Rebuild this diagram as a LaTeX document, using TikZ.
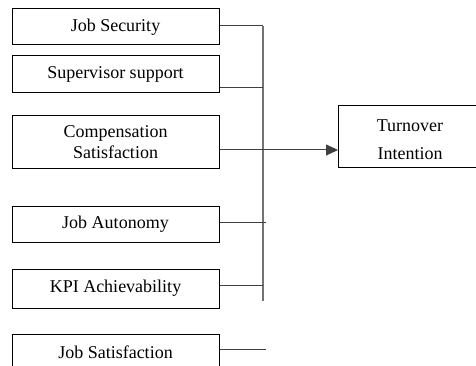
\documentclass[tikz,border=0pt]{standalone}
\usepackage{fontspec}
\setmainfont{Liberation Serif}
\usetikzlibrary{arrows.meta}
\begin{document}
\begin{tikzpicture}[x=1pt,y=-1pt,
  box/.style={draw=black, line width=1pt, minimum width=207pt, inner sep=0pt, font=\fontsize{18}{21}\selectfont, align=center},
  txt/.style={inner sep=0pt, font=\fontsize{18}{28}\selectfont, align=center},
  wire/.style={draw=black!75, line width=1pt},
  spine/.style={draw=black!55, line width=1.3pt}]
\useasboundingbox (0,0) rectangle (476,366);
\node[box, minimum height=36pt] (b1) at (115.5,27) {Job Security};
\node[box, minimum height=37pt] (b2) at (115.5,74.5) {Supervisor support};
\node[box, minimum height=53pt] (b3) at (115.5,142.5) {Compensation\\Satisfaction};
\node[box, minimum height=36pt] (b4) at (115.5,224) {Job Autonomy};
\node[box, minimum height=39pt] (b5) at (115.5,288.5) {KPI Achievability};
\node[box, minimum height=36pt] (b6) at (115.5,352) {Job Satisfaction};
\node[draw=black, line width=1pt, minimum width=160pt, minimum height=62pt, anchor=west, inner sep=0pt] (to) at (338,137) {};
\node[txt] (tot) at (410,139.5) {Turnover\\Intention};
\coordinate (top) at (263,26);
\coordinate (bot) at (263,301);
\coordinate (j2) at (263,88);
\coordinate (j4) at (266,222);
\coordinate (j5) at (263,285);
\coordinate (j6) at (266,349);
\draw[spine] (top) -- (bot);
\draw[wire] (b1.east |- top) -- (top);
\draw[wire] (b2.east |- j2) -- (j2);
\draw[wire] (b4.east |- j4) -- (j4);
\draw[wire] (b5.east |- j5) -- (j5);
\draw[wire] (b6.east |- j6) -- (j6);
\draw[wire, -{Triangle[length=12pt,width=11pt]}] (b3.east |- 0,150) -- (to.west |- 0,150);
\end{tikzpicture}
\end{document}
